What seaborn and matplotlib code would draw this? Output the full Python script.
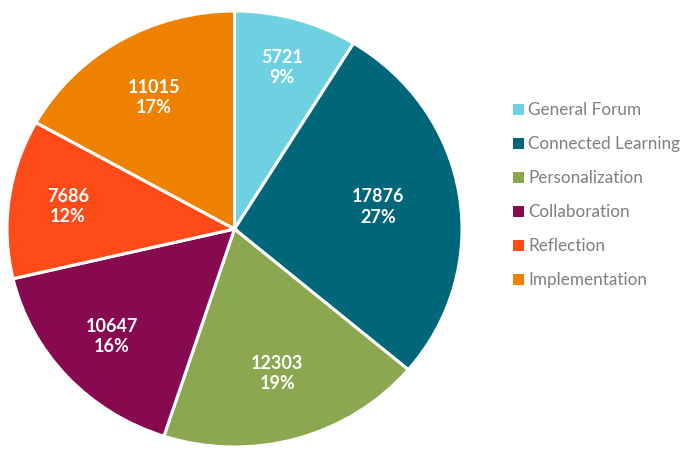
import numpy as np
import pandas as pd
import seaborn as sns
from matplotlib import pyplot as plt
from matplotlib.patches import Patch

categories = ["General Forum", "Connected Learning", "Personalization",
              "Collaboration", "Reflection", "Implementation"]
counts = [5721, 17876, 12303, 10647, 7686, 11015]
colors = ["#6DD1E1", "#00667A", "#8BA74F", "#87094F", "#FF4B17", "#EE8100"]

df = pd.DataFrame({"forum": categories, "posts": counts})
total = df["posts"].sum()

sns.set_theme(style="white")
plt.rcParams["font.family"] = ["Lato", "DejaVu Sans"]
palette = sns.color_palette(colors)

fig = plt.figure(figsize=(6.82, 4.49), dpi=100)
# pie area spans roughly x 7..461 px, y 12..447 px (slightly oval)
ax = fig.add_axes([7 / 682, 2 / 449, 455 / 682, 436 / 449])

def fmt(pct):
    val = int(round(pct * total / 100))
    return f"{val}\n{pct:.0f}%"

wedges, _, autotexts = ax.pie(
    df["posts"], colors=palette, startangle=90, counterclock=False,
    autopct=fmt, pctdistance=0.70,
    wedgeprops=dict(edgecolor="white", linewidth=2.2),
    textprops=dict(color="white", fontsize=13, fontweight="bold",
                   linespacing=1.25))

# label distance from centre, per slice (excel-ish placement)
label_r = [0.77, 0.64, 0.69, 0.73, 0.74, 0.70]
for w, t, r in zip(wedges, autotexts, label_r):
    ang = np.deg2rad((w.theta1 + w.theta2) / 2)
    t.set_position((r * np.cos(ang), r * np.sin(ang)))
    t.set_ha("center")
    t.set_multialignment("center")

ax.set_aspect("auto")
ax.set_xlim(-1.0, 1.0)
ax.set_ylim(-1.0, 1.0)

handles = [Patch(facecolor=c, edgecolor="none") for c in palette]
fig.legend(handles, categories, loc="upper left",
           bbox_to_anchor=(498 / 682, 1 - 87 / 449), frameon=False,
           fontsize=12.3, labelcolor="#7F7F7F", handlelength=0.62,
           handleheight=0.62, handletextpad=0.25, labelspacing=1.05)

fig.savefig("out.png", dpi=100)
